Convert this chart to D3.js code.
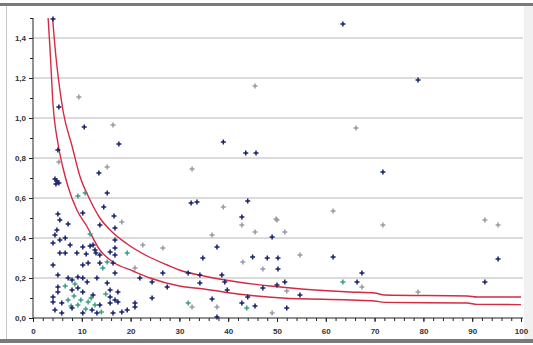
<!DOCTYPE html>
<html>
<head>
<meta charset="utf-8">
<script src="https://cdn.jsdelivr.net/npm/d3@7"></script>
<style>
  html, body { margin: 0; padding: 0; background: #fff; }
  svg { display: block; }
  .tick text { font-family: "Liberation Sans", Arial, sans-serif; font-size: 8px; font-weight: bold; fill: #333; }
</style>
</head>
<body>
<svg id="chart" width="533" height="345"></svg>
<script>
// Scatter of rate vs. size with two control-limit curves (funnel plot).
const xTicks = [0, 10, 20, 30, 40, 50, 60, 70, 80, 90, 100];
const yTicks = [0, 0.2, 0.4, 0.6, 0.8, 1.0, 1.2, 1.4];

// Upper and lower control limits as [size, rate]
const upperLimit = [
  [4.0, 1.5], [4.6, 1.33], [5.4, 1.16], [6.2, 1.03], [8.0, 0.86], [9.6, 0.71],
  [11.7, 0.59], [13.7, 0.5], [15.8, 0.44], [19.3, 0.37], [23.4, 0.31], [27.5, 0.265],
  [30, 0.24], [35, 0.21], [42, 0.18], [48.6, 0.16], [55, 0.145], [65, 0.13],
  [70, 0.125], [72, 0.115], [89, 0.11], [91, 0.105], [100, 0.105]
];
const lowerLimit = [
  [3.1, 1.5], [3.5, 1.34], [4.1, 1.07], [5.1, 0.875], [6.1, 0.755], [7.2, 0.655],
  [9.0, 0.54], [11, 0.46], [13.7, 0.34], [16.4, 0.28], [20.5, 0.235], [24, 0.2],
  [30, 0.16], [35, 0.145], [42, 0.12], [51, 0.1], [65, 0.09], [70, 0.085],
  [72, 0.078], [89, 0.075], [91, 0.068], [100, 0.067]
];

// Units, grouped by series
const navyPoints = [
  [4.1,1.495],[5.3,1.055],[10.5,0.955],[17.6,0.87],[5.1,0.84],[13.5,0.725],
  [4.9,0.685],[4.5,0.695],[5.3,0.675],[4.7,0.67],[15.2,0.625],[14.5,0.555],
  [16.6,0.51],[10.2,0.525],[5.1,0.52],[5.5,0.49],[7.2,0.47],[13.7,0.465],
  [16.8,0.45],[4.9,0.44],[4.5,0.415],[4.1,0.375],[5.5,0.39],[6.6,0.4],
  [7.6,0.365],[10.2,0.355],[11.7,0.36],[12.3,0.365],[12.7,0.34],[5.5,0.325],
  [6.6,0.325],[9.0,0.325],[10.9,0.32],[12.9,0.325],[13.7,0.315],[15.8,0.33],
  [16.8,0.39],[16.8,0.35],[16.8,0.315],[4.1,0.265],[10.2,0.265],[11.3,0.275],
  [13.7,0.275],[16.4,0.275],[16.8,0.225],[26.6,0.225],[5.1,0.215],[7.2,0.2],
  [8.0,0.19],[9.2,0.205],[10.2,0.2],[11.1,0.18],[13.1,0.2],[15.2,0.175],
  [15.8,0.14],[21.9,0.2],[24.4,0.18],[27.5,0.155],[5.1,0.155],[5.1,0.13],
  [8.0,0.14],[9.2,0.15],[10.2,0.13],[12.3,0.115],[15.8,0.105],[16.8,0.09],
  [17.4,0.13],[4.1,0.105],[4.1,0.08],[5.9,0.075],[8.0,0.05],[10.2,0.025],
  [12.1,0.04],[13.7,0.065],[15.8,0.075],[17.4,0.08],[19.3,0.04],[20.9,0.055],
  [20.9,0.075],[24.4,0.1],[5.9,0.025],[4.5,0.04],[13.1,0.025],[16.4,0.025],
  [18.2,0.03],[49,0.405],[37.7,0.355],[34.8,0.3],[45,0.305],[48,0.3],
  [50.2,0.3],[61.5,0.305],[50.2,0.245],[31.8,0.225],[34.2,0.215],[38.7,0.215],
  [34.2,0.175],[39.3,0.18],[39.8,0.14],[51.6,0.18],[50,0.165],[47.1,0.15],
  [54.7,0.115],[44,0.105],[36.7,0.095],[42.8,0.075],[45.5,0.06],[52,0.05],
  [37.7,0.005],[95.3,0.295],[67.4,0.225],[66.4,0.18],[92.6,0.18],[63.5,1.47],
  [78.9,1.19],[39,0.88],[43.6,0.825],[45.7,0.825],[32.4,0.575],[33.6,0.58],
  [44,0.585],[42.8,0.505],[71.7,0.73]
];
const tealPoints = [
  [10.7,0.625],[9.2,0.61],[19.3,0.325],[15.2,0.28],[11.3,0.08],[9.2,0.065],
  [43.8,0.05],[63.5,0.18],[14.3,0.25],[7.2,0.09],[12.7,0.065],[31.8,0.075],
  [11.7,0.42],[8.6,0.17],[14.9,0.12],[7.8,0.06],[9.8,0.09],[10.8,0.045],
  [8.4,0.11],[11.9,0.1],[6.6,0.16],[14.0,0.03]
];
const grayPoints = [
  [9.4,1.105],[16.4,0.965],[5.3,0.78],[15.2,0.755],[18.2,0.48],[22.5,0.365],
  [26.6,0.35],[20.9,0.25],[42.8,0.465],[45.5,0.43],[50,0.49],[51.6,0.43],
  [36.7,0.415],[43,0.28],[54.7,0.315],[47.1,0.245],[52,0.135],[32.6,0.055],
  [37.7,0.055],[49,0.025],[71.7,0.465],[92.6,0.49],[95.3,0.465],[67.4,0.155],
  [78.9,0.13],[45.5,1.16],[32.6,0.745],[39,0.555],[49.8,0.495],[61.5,0.535],
  [66.2,0.95]
];

const svg = d3.select("#chart");
const W = 533, H = 345;

// Frame around the chart
svg.append("rect").attr("x", 0).attr("y", 0).attr("width", W).attr("height", H).attr("fill", "#ffffff");
svg.append("rect").attr("x", 524).attr("y", 6).attr("width", 9).attr("height", 333).attr("fill", "#f1f1f1");
svg.append("rect").attr("x", 0).attr("y", 3).attr("width", W).attr("height", 3).attr("fill", "#7a7a7a");
svg.append("rect").attr("x", 0).attr("y", 339).attr("width", W).attr("height", 4).attr("fill", "#7a7a7a");
svg.append("line").attr("x1", 6.5).attr("x2", 6.5).attr("y1", 6).attr("y2", 339).attr("stroke", "#c8c8c8");

const x = d3.scaleLinear().domain([0, 100]).range([33, 521]);
const y = d3.scaleLinear().domain([0, 1.5]).range([318, 18]);

// Horizontal gridlines
svg.append("g").selectAll("line").data(yTicks.filter(d => d > 0)).join("line")
  .attr("x1", x(0)).attr("x2", 523)
  .attr("y1", d => y(d)).attr("y2", d => y(d))
  .attr("stroke", "#cfcfcf").attr("stroke-width", 1.5);

const fmt = d => d3.format(".1f")(d).replace(".", ",");

// Y axis with minor ticks
const yAxis = svg.append("g").attr("transform", `translate(${x(0)},0)`)
  .call(d3.axisLeft(y).tickValues(yTicks).tickFormat(fmt).tickSize(4).tickPadding(3));
yAxis.select(".domain").attr("stroke", "#222").attr("d", `M0,${y(1.5)}V${y(0)}`);
yAxis.selectAll(".tick line").attr("stroke", "#222");
svg.append("g").attr("transform", `translate(${x(0)},0)`)
  .call(d3.axisLeft(y).tickValues([0.1, 0.3, 0.5, 0.7, 0.9, 1.1, 1.3, 1.5]).tickFormat("").tickSize(3))
  .call(g => g.select(".domain").remove())
  .selectAll(".tick line").attr("stroke", "#222");

// X axis with minor ticks
const xAxis = svg.append("g").attr("transform", `translate(0,${y(0)})`)
  .call(d3.axisBottom(x).tickValues(xTicks).tickFormat(d3.format("d")).tickSize(4).tickPadding(6));
xAxis.select(".domain").attr("stroke", "#222").attr("d", `M${x(0)},0H523`);
xAxis.selectAll(".tick line").attr("stroke", "#222");
svg.append("g").attr("transform", `translate(0,${y(0)})`)
  .call(d3.axisBottom(x).tickValues(d3.range(0, 101, 2)).tickFormat("").tickSize(3))
  .call(g => g.select(".domain").remove())
  .selectAll(".tick line").attr("stroke", "#222");

// Control limit curves
const line = d3.line().x(d => x(d[0])).y(d => y(d[1])).curve(d3.curveMonotoneX);
[upperLimit, lowerLimit].forEach(data => {
  svg.append("path").datum(data).attr("d", line)
    .attr("fill", "none").attr("stroke", "#d42a44").attr("stroke-width", 1.4);
});

// Plus-shaped markers
function drawPlus(data, color) {
  const g = svg.append("g").attr("stroke", color).attr("stroke-width", 1.5);
  g.selectAll("path").data(data).join("path")
    .attr("d", d => `M${x(d[0]) - 2.5},${y(d[1])}h5M${x(d[0])},${y(d[1]) - 2.5}v5`);
}
drawPlus(grayPoints, "#9a9aa6");
drawPlus(tealPoints, "#3f9c86");
drawPlus(navyPoints, "#18226a");
</script>
</body>
</html>
